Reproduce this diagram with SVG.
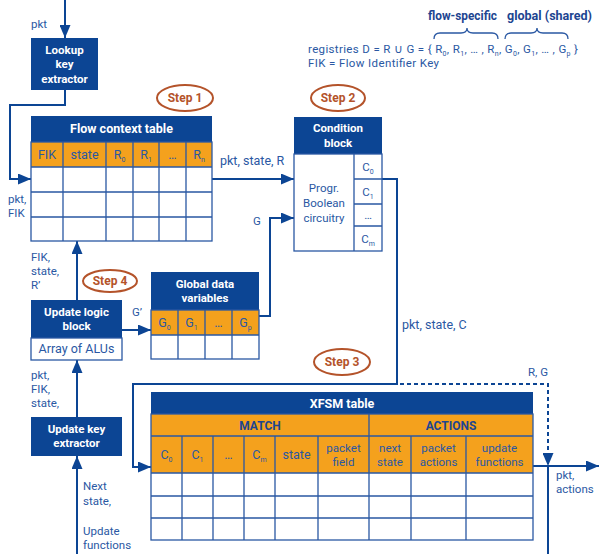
<svg xmlns="http://www.w3.org/2000/svg" width="599" height="554" viewBox="0 0 599 554">
<style>
text{font-family:Roboto,'Open Sans',sans-serif}
.box{fill:#0c4594}
.or{fill:#f4a11d}
.grid{fill:none;stroke:#2a58a3;stroke-width:1.3}
.wt{font-weight:700;font-size:11.5px;fill:#fff;text-anchor:middle}
.wt1{font-size:12.5px}
.lb{font-size:11.5px;fill:#2a58a3}
.hd{font-size:11.5px;fill:#2a58a3;text-anchor:middle}
.hd1{font-size:12.5px}
.bh{font-size:12px;font-weight:700;fill:#1d4591;text-anchor:middle}
.step{fill:#fff;stroke:#b4532a;stroke-width:2}
.st{font-size:12px;font-weight:700;fill:#b4532a;text-anchor:middle}
.cn{fill:none;stroke:#0c4594;stroke-width:2}
.dash{fill:none;stroke:#0c4594;stroke-width:2;stroke-dasharray:4 3}
.sub{font-size:7px}
</style>
<defs>
<marker id="ah" markerUnits="userSpaceOnUse" markerWidth="13" markerHeight="11" refX="13" refY="5.5" orient="auto">
<path d="M0,0 L13,5.5 L0,11 z" fill="#0c4594"/>
</marker>
</defs>

<g id="legend">
<text x="428" y="20" class="bh" style="text-anchor:start" textLength="69" lengthAdjust="spacingAndGlyphs">flow-specific</text>
<text x="507" y="20" class="bh" style="text-anchor:start" textLength="85" lengthAdjust="spacingAndGlyphs">global (shared)</text>
<path d="M434,39 Q434,33 440,33 H461 Q467,33 467,28 Q467,33 473,33 H492 Q498,33 498,39" fill="none" stroke="#2a58a3" stroke-width="1.3"/>
<path d="M505,39 Q505,33 511,33 H531 Q537,33 537,28 Q537,33 543,33 H562 Q568,33 568,39" fill="none" stroke="#2a58a3" stroke-width="1.3"/>
<text x="308" y="53" class="lb" textLength="270" lengthAdjust="spacing">registries D = R ∪ G = { R<tspan class="sub" dy="3">0</tspan><tspan dy="-3">, R</tspan><tspan class="sub" dy="3">1</tspan><tspan dy="-3">, … , R</tspan><tspan class="sub" dy="3">n</tspan><tspan dy="-3">, G</tspan><tspan class="sub" dy="3">0</tspan><tspan dy="-3">, G</tspan><tspan class="sub" dy="3">1</tspan><tspan dy="-3">, … , G</tspan><tspan class="sub" dy="3">p</tspan><tspan dy="-3"> }</tspan></text>
<text x="308" y="67" class="lb" textLength="131" lengthAdjust="spacing">FIK = Flow Identifier Key</text>
</g>

<g id="connectors">
<path class="cn" d="M65,0 V38" marker-end="url(#ah)"/>
<path class="cn" d="M65,90 V105 H10 V179 H31" marker-end="url(#ah)"/>
<path class="cn" d="M212,179 H294" marker-end="url(#ah)"/>
<path class="cn" d="M259,316 H270 V218 H294" marker-end="url(#ah)"/>
<path class="cn" d="M382,179 H397 V384 H133 V467 H151" marker-end="url(#ah)"/>
<path class="dash" d="M400,384 H548 V466" marker-end="url(#ah)"/>
<path class="cn" d="M533,466 H599" marker-end="url(#ah)"/>
<path class="cn" d="M548,466 V554"/>
<path class="cn" d="M77,300 V241" marker-end="url(#ah)"/>
<path class="cn" d="M122,330 H151" marker-end="url(#ah)"/>
<path class="cn" d="M77,417 V360" marker-end="url(#ah)"/>
<path class="cn" d="M77,554 V456" marker-end="url(#ah)"/>
<text x="31" y="28" class="lb">pkt</text>
<text x="8" y="203" class="lb">pkt,</text>
<text x="8" y="217" class="lb">FIK</text>
<text x="220" y="165" class="lb hd1">pkt, state, R</text>
<text x="253" y="225" class="lb">G</text>
<text x="402" y="329" class="lb hd1">pkt, state, C</text>
<text x="31" y="261" class="lb">FIK,</text>
<text x="31" y="275" class="lb">state,</text>
<text x="31" y="289" class="lb">R’</text>
<text x="132" y="316" class="lb">G’</text>
<text x="31" y="379" class="lb">pkt,</text>
<text x="31" y="393" class="lb">FIK,</text>
<text x="31" y="407" class="lb">state,</text>
<text x="83" y="490" class="lb">Next</text>
<text x="83" y="505" class="lb">state,</text>
<text x="83" y="535" class="lb">Update</text>
<text x="83" y="549" class="lb">functions</text>
<text x="528" y="376" class="lb">R, G</text>
<text x="556" y="479" class="lb">pkt,</text>
<text x="556" y="493" class="lb">actions</text>
</g>

<g id="lookup-key-extractor">
<rect x="31" y="38" width="67" height="52" class="box"/>
<text x="64.5" y="54" class="wt">Lookup</text>
<text x="64.5" y="68" class="wt">key</text>
<text x="64.5" y="83" class="wt">extractor</text>
</g>

<g id="flow-context-table">
<rect x="31" y="116" width="181" height="26" class="box"/>
<rect x="31" y="142" width="181" height="25" class="or"/>
<rect x="31" y="142" width="181" height="99" class="grid"/>
<path class="grid" d="M63,142V241M106,142V241M133,142V241M159,142V241M186,142V241M31,167H212M31,192H212M31,217H212"/>
<text x="121.5" y="133" class="wt wt1">Flow context table</text>
<text x="47" y="159" class="hd hd1">FIK</text>
<text x="84.5" y="159" class="hd hd1">state</text>
<text x="119.5" y="159" class="hd hd1">R<tspan class="sub" dy="3">0</tspan></text>
<text x="146" y="159" class="hd hd1">R<tspan class="sub" dy="3">1</tspan></text>
<text x="172.5" y="159" class="hd hd1">…</text>
<text x="199" y="159" class="hd hd1">R<tspan class="sub" dy="3">n</tspan></text>
</g>

<g id="condition-block">
<rect x="294" y="117" width="88" height="37" class="box"/>
<rect x="294" y="154" width="88" height="97" class="grid"/>
<path class="grid" d="M354,154V251M354,179H382M354,204H382M354,226H382"/>
<text x="338" y="132" class="wt">Condition</text>
<text x="338" y="147" class="wt">block</text>
<text x="324" y="192" class="hd">Progr.</text>
<text x="324" y="207" class="hd">Boolean</text>
<text x="324" y="222" class="hd">circuitry</text>
<text x="368" y="171" class="hd">C<tspan class="sub" dy="3">0</tspan></text>
<text x="368" y="196" class="hd">C<tspan class="sub" dy="3">1</tspan></text>
<text x="368" y="219" class="hd">…</text>
<text x="368" y="243" class="hd">C<tspan class="sub" dy="3">m</tspan></text>
</g>

<g id="global-data-variables">
<rect x="151" y="272" width="108" height="38" class="box"/>
<rect x="151" y="310" width="108" height="25" class="or"/>
<rect x="151" y="310" width="108" height="49" class="grid"/>
<path class="grid" d="M178,310V359M205,310V359M232,310V359M151,335H259"/>
<text x="205" y="288" class="wt">Global data</text>
<text x="205" y="302" class="wt">variables</text>
<text x="164.5" y="327" class="hd hd1">G<tspan class="sub" dy="3">0</tspan></text>
<text x="191.5" y="327" class="hd hd1">G<tspan class="sub" dy="3">1</tspan></text>
<text x="218.5" y="327" class="hd hd1">…</text>
<text x="245.5" y="327" class="hd hd1">G<tspan class="sub" dy="3">p</tspan></text>
</g>

<g id="update-logic-block">
<rect x="31" y="300" width="91" height="38" class="box"/>
<rect x="31" y="338" width="91" height="22" class="grid" style="fill:#fff"/>
<text x="76.5" y="316" class="wt">Update logic</text>
<text x="76.5" y="330" class="wt">block</text>
<text x="76.5" y="353" class="hd hd1">Array of ALUs</text>
</g>

<g id="update-key-extractor">
<rect x="31" y="417" width="91" height="39" class="box"/>
<text x="76.5" y="433" class="wt">Update key</text>
<text x="76.5" y="447" class="wt">extractor</text>
</g>

<g id="xfsm-table">
<rect x="151" y="392" width="382" height="22" class="box"/>
<rect x="151" y="414" width="382" height="59" class="or"/>
<rect x="151" y="414" width="382" height="126" class="grid"/>
<path class="grid" d="M151,436H533M151,473H533M151,496H533M151,518H533M369,414V540M182,436V540M213,436V540M244,436V540M275,436V540M318,436V540M411,436V540M466,436V540"/>
<text x="342" y="408" class="wt wt1">XFSM table</text>
<text x="260" y="430" class="bh">MATCH</text>
<text x="451" y="430" class="bh">ACTIONS</text>
<text x="166.5" y="459" class="hd hd1">C<tspan class="sub" dy="3">0</tspan></text>
<text x="197.5" y="459" class="hd hd1">C<tspan class="sub" dy="3">1</tspan></text>
<text x="228.5" y="459" class="hd hd1">…</text>
<text x="259.5" y="459" class="hd hd1">C<tspan class="sub" dy="3">m</tspan></text>
<text x="296.5" y="459" class="hd hd1">state</text>
<text x="343.5" y="452" class="hd">packet</text>
<text x="343.5" y="466" class="hd">field</text>
<text x="390" y="452" class="hd">next</text>
<text x="390" y="466" class="hd">state</text>
<text x="438.5" y="452" class="hd">packet</text>
<text x="438.5" y="466" class="hd">actions</text>
<text x="499.5" y="452" class="hd">update</text>
<text x="499.5" y="466" class="hd">functions</text>
</g>

<g id="step1"><ellipse cx="185" cy="98" rx="28" ry="13" class="step"/><text x="185" y="102" class="st">Step 1</text></g>
<g id="step2"><ellipse cx="338" cy="98" rx="27" ry="13" class="step"/><text x="338" y="102" class="st">Step 2</text></g>
<g id="step3"><ellipse cx="342" cy="362" rx="28" ry="13" class="step"/><text x="342" y="366" class="st">Step 3</text></g>
<g id="step4"><ellipse cx="110" cy="281" rx="27" ry="11" class="step"/><text x="110" y="285" class="st">Step 4</text></g>
</svg>
